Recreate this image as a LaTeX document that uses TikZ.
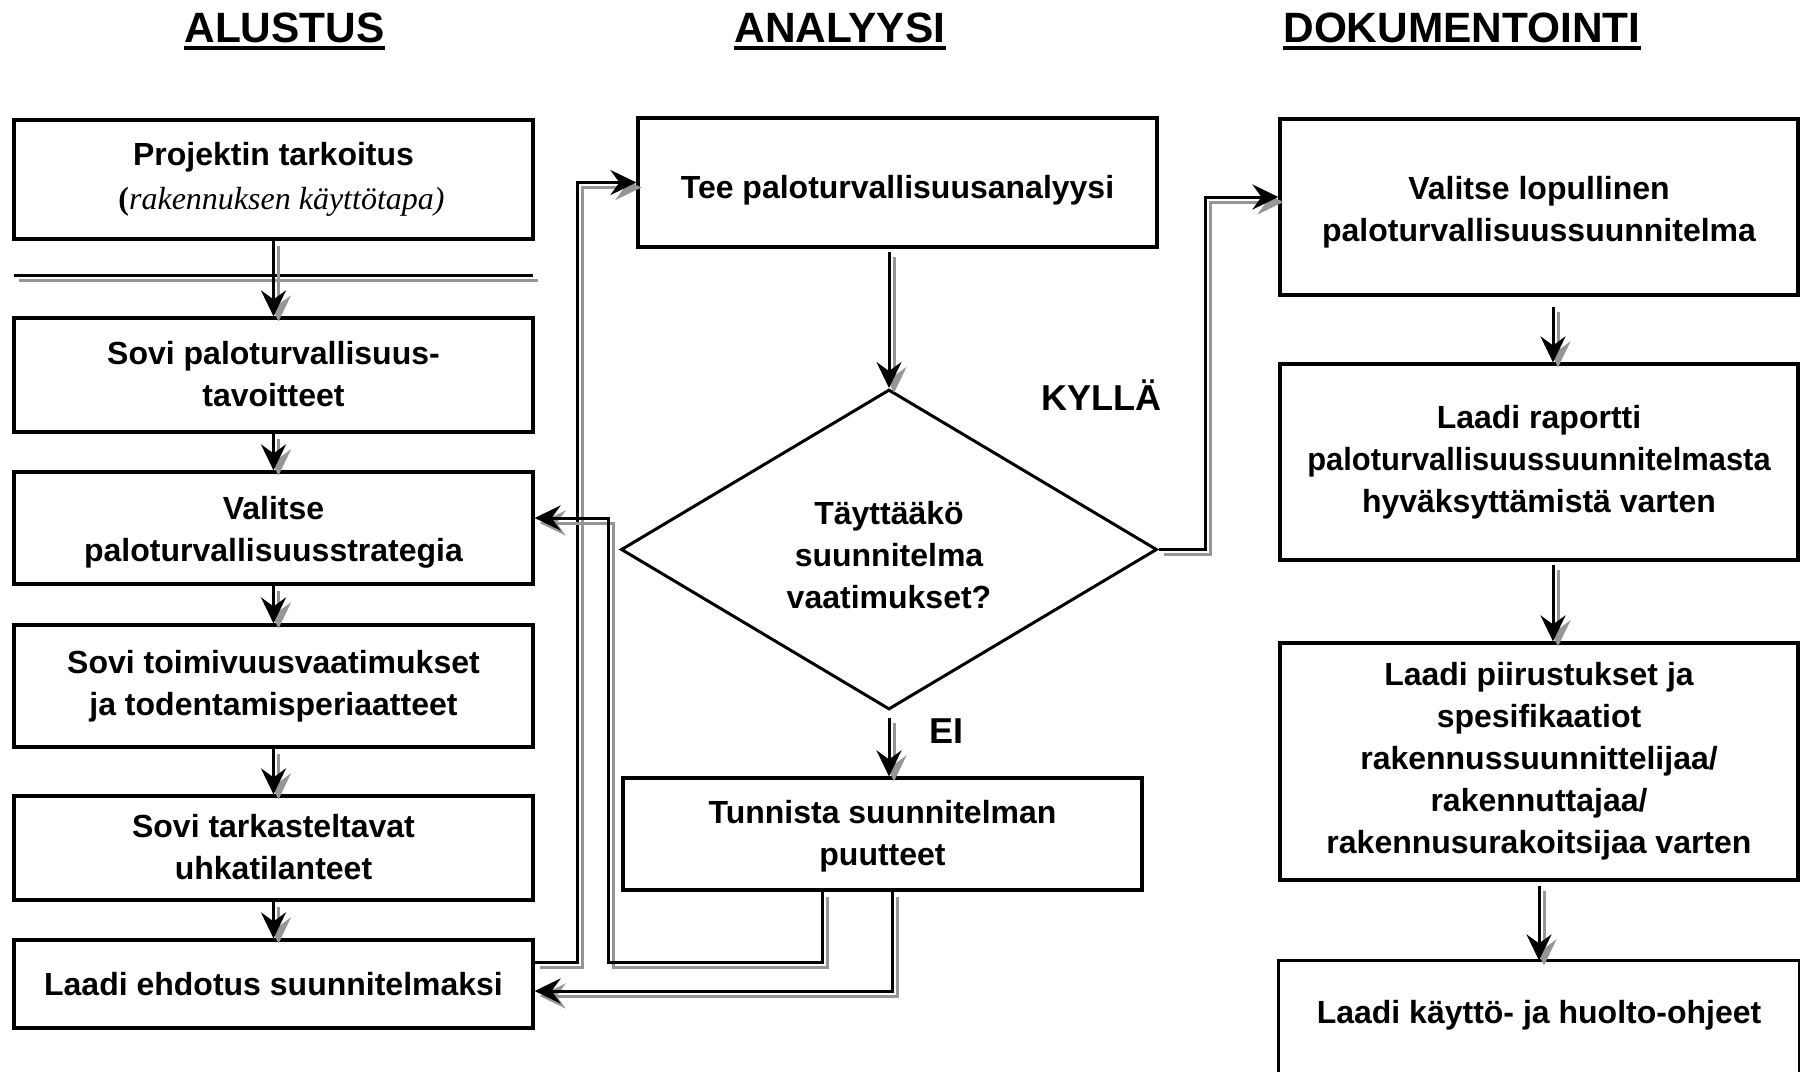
\documentclass[tikz,border=0pt]{standalone}
\usepackage{fontspec}
\setmainfont{Liberation Sans}
\newfontfamily\serifit{Liberation Serif}
\usetikzlibrary{arrows.meta,shapes.geometric}
\definecolor{shadowgray}{RGB}{150,150,150}
\tikzset{
  box/.style={draw, line width=1.6pt, minimum width=259.5pt, align=center, inner sep=0pt,
    font=\fontsize{16}{21}\selectfont\bfseries},
  decision/.style={diamond, aspect=1.7, draw, line width=1.5pt, minimum width=268pt, minimum height=160pt,
    inner sep=0pt, align=center, font=\fontsize{16}{21}\selectfont\bfseries},
  conn/.style={line width=1.5pt, -{Stealth[length=13pt,width=12.5pt,inset=4.5pt]}},
  sepline/.style={line width=1.5pt},
  frame/.style={line width=1.6pt},
  title/.style={font=\fontsize{21.2}{25}\selectfont\bfseries, inner sep=0pt, anchor=base},
  lbl/.style={font=\fontsize{18}{22}\selectfont\bfseries, inner sep=0pt},
}
\newcommand\shdraw[2]{%
  \draw[#1,draw=shadowgray,transform canvas={xshift=2.5pt,yshift=-2.5pt}] #2;
  \draw[#1,draw=black] #2;}
% lower a (multi-line) text inside its node without changing the node size
\newcommand\lowered[2]{\raisebox{-#1}[\height][\depth]{\begin{tabular}{@{}c@{}}#2\end{tabular}}}
\begin{document}
\begin{tikzpicture}[x=0.5pt,y=-0.5pt]
\useasboundingbox (0,0) rectangle (1800,1072);
% titles
\node[title] (t1) at (284.5,42) {ALUSTUS};
\node[title] (t2) at (840,42) {ANALYYSI};
\node[title] (t3) at (1462,42) {DOKUMENTOINTI};
\foreach \nm in {t1,t2,t3}
  \draw[line width=1.6pt] ([yshift=-3pt]\nm.base west) -- ([yshift=-3pt]\nm.base east);
% left column
\node[box, minimum height=59.5pt] (L1) at (273.5,179.5)
  {Projektin tarkoitus\\[1pt]\hspace*{8pt}{\serifit\mdseries\fontsize{16}{21}\selectfont\textbf{(}\itshape rakennuksen käyttötapa)}};
\node[box, minimum height=57pt] (L2) at (273.5,375) {\lowered{1pt}{Sovi paloturvallisuus-\\tavoitteet}};
\node[box, minimum height=56pt] (L3) at (273.5,528) {\lowered{2pt}{Valitse\\paloturvallisuusstrategia}};
\node[box, minimum height=61pt] (L4) at (273.5,686) {Sovi toimivuusvaatimukset\\ja todentamisperiaatteet};
\node[box, minimum height=52pt] (L5) at (273.5,848) {\lowered{1pt}{Sovi tarkasteltavat\\uhkatilanteet}};
\node[box, minimum height=44pt] (L6) at (273.5,984) {Laadi ehdotus suunnitelmaksi};
% middle column
\node[box, minimum height=64.5pt] (T) at (897.5,182.5) {\lowered{4pt}{Tee paloturvallisuusanalyysi}};
\node[decision] (D) at (889,549.5) {\lowered{4.5pt}{Täyttääkö\\suunnitelma\\vaatimukset?}};
\node[box, minimum height=56pt] (N) at (882.5,834) {\lowered{1pt}{Tunnista suunnitelman\\puutteet}};
\node[lbl] (yes) at (1101,395) {KYLLÄ};
\node[lbl] (no) at (946,731) {EI};
% right column
\node[box, minimum width=259pt, minimum height=88pt] (R1) at (1539,207)
  {\lowered{2.3pt}{Valitse lopullinen\\paloturvallisuussuunnitelma}};
\node[box, minimum width=259pt, minimum height=98pt] (R2) at (1539,462)
  {Laadi raportti\\\scalebox{0.965}[1]{paloturvallisuussuunnitelmasta}\\hyväksyttämistä varten};
\node[box, minimum width=259pt, minimum height=118.5pt] (R3) at (1539,761.5)
  {Laadi piirustukset ja\\spesifikaatiot\\rakennussuunnittelijaa/\\rakennuttajaa/\\rakennusurakoitsijaa varten};
\node[box, draw=none, minimum width=259pt, minimum height=53pt] (R4) at (1539,1015)
  {Laadi käyttö- ja huolto-ohjeet};
\coordinate (pagebot) at (0,1072);
\draw[frame] (R4.north west |- pagebot) -- (R4.north west) -- (R4.north east) -- (R4.north east |- pagebot);
% bend points
\coordinate (sepL) at (14,275);
\coordinate (sepR) at (533,275);
\coordinate (b1) at (577,962);
\coordinate (b2) at (608,962);
\coordinate (b4) at (1205,549.5);
% separator line under first box
\shdraw{sepline}{(sepL) -- (sepR)}
% left column arrows
\shdraw{conn}{(L1.south) -- (L2.north)}
\shdraw{conn}{(L2.south) -- (L3.north)}
\shdraw{conn}{(L3.south) -- (L4.north)}
\shdraw{conn}{(L4.south) -- (L5.north)}
\shdraw{conn}{(L5.south) -- (L6.north)}
% middle arrows
\shdraw{conn}{([yshift=-1.5pt]T.south -| D.north) -- (D.north)}
\shdraw{conn}{([yshift=-3.5pt]D.south) -- (D.south |- N.north)}
% feedback and flow connectors
\shdraw{conn}{([yshift=11pt]L6.east) -- (b1) |- (T.west)}
\shdraw{conn}{([xshift=-30pt]N.south) |- (b2) |- ([yshift=5pt]L3.east)}
\shdraw{conn}{([xshift=5pt]N.south) |- ([yshift=-3.5pt]L6.east)}
\shdraw{conn}{(D.east) -- (b4) |- ([yshift=5pt]R1.west)}
% right column arrows
\shdraw{conn}{([xshift=7pt,yshift=-5pt]R1.south) -- ([xshift=7pt]R2.north)}
\shdraw{conn}{([xshift=7pt,yshift=-1.5pt]R2.south) -- ([xshift=7pt]R3.north)}
\shdraw{conn}{([yshift=-2pt]R3.south) -- (R4.north)}
\end{tikzpicture}
\end{document}
